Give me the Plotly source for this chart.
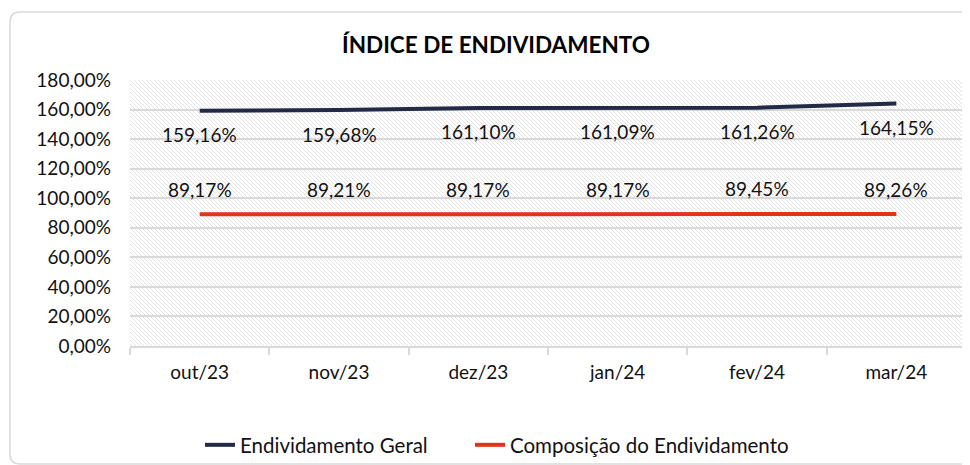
import base64
import plotly.graph_objects as go

categories = ["out/23", "nov/23", "dez/23", "jan/24", "fev/24", "mar/24"]
endividamento_geral = [159.16, 159.68, 161.10, 161.09, 161.26, 164.15]
composicao = [89.17, 89.21, 89.17, 89.17, 89.45, 89.26]
y_ticks = [0, 20, 40, 60, 80, 100, 120, 140, 160, 180]

FONT = "Lato"
NAVY = "#222a45"
RED = "#e5321d"
GRID = "#d9d9d9"
TEXT = "#111111"


def fmt(v):
    return f"{v:.2f}".replace(".", ",") + "%"


y_ticktext = [fmt(v) for v in y_ticks]

fig = go.Figure()
fig.add_trace(go.Scatter(x=categories, y=endividamento_geral, mode="lines",
                         name="Endividamento Geral", legend="legend",
                         line=dict(color=NAVY, width=4)))
fig.add_trace(go.Scatter(x=categories, y=composicao, mode="lines",
                         name="Composição do Endividamento", legend="legend2",
                         line=dict(color=RED, width=4)))

annotations = []
for c, v in zip(categories, endividamento_geral):
    annotations.append(dict(x=c, y=v, xref="x", yref="y", text=fmt(v), showarrow=False,
                            yshift=-24, font=dict(family=FONT, size=19, color=TEXT)))
for c, v in zip(categories, composicao):
    annotations.append(dict(x=c, y=v, xref="x", yref="y", text=fmt(v), showarrow=False,
                            yshift=25, font=dict(family=FONT, size=19, color=TEXT)))

# the page body has an 8px margin: work in window coords, convert to figure coords
OFF = 8
FW, FH = 970 - OFF, 465 - OFF
L, R, T, B = 130, 966, 80, 346          # plot area in window pixels
W, H = R - L, B - T

svg = (f'<svg xmlns="http://www.w3.org/2000/svg" width="{W}" height="{H}">'
       '<defs><pattern id="h" width="4" height="4" patternUnits="userSpaceOnUse">'
       '<path d="M-1,-1 L5,5 M-1,3 L1,5 M3,-1 L5,1" stroke="#e2e2e2" stroke-width="1"/>'
       f'</pattern></defs><rect width="{W}" height="{H}" fill="#ffffff"/>'
       f'<rect width="{W}" height="{H}" fill="url(#h)"/></svg>')
src = "data:image/svg+xml;base64," + base64.b64encode(svg.encode()).decode()


def px(x):
    return (x - L) / W


def py(y):
    return (B - y) / H


x0, x1, y0, y1 = px(10), px(990), py(12), py(464)
rx, ry = 10 / W, 10 / H
path = (f"M{x0 + rx},{y0} L{x1 - rx},{y0} Q{x1},{y0} {x1},{y0 - ry} "
        f"L{x1},{y1 + ry} Q{x1},{y1} {x1 - rx},{y1} L{x0 + rx},{y1} "
        f"Q{x0},{y1} {x0},{y1 + ry} L{x0},{y0 - ry} Q{x0},{y0} {x0 + rx},{y0} Z")

legend_common = dict(orientation="h", xanchor="left", y=py(445), yanchor="middle",
                     font=dict(family=FONT, size=20.5, color=TEXT), bgcolor="rgba(0,0,0,0)")

fig.update_layout(
    width=FW, height=FH,
    margin=dict(l=L - OFF, r=FW - (R - OFF), t=T - OFF, b=FH - (B - OFF), autoexpand=False),
    paper_bgcolor="white",
    plot_bgcolor="rgba(0,0,0,0)",
    font=dict(family=FONT, size=19, color=TEXT),
    title=dict(text="<b>ÍNDICE DE ENDIVIDAMENTO</b>", x=px(496), xanchor="center",
               xref="paper", y=1 - (45 - OFF) / FH, yanchor="middle",
               font=dict(family=FONT, size=22.5, color="#000000")),
    showlegend=True,
    legend=dict(x=px(200), **legend_common),
    legend2=dict(x=px(470), **legend_common),
    annotations=annotations,
    images=[dict(source=src, xref="paper", yref="paper", x=0, y=1, sizex=1, sizey=1,
                 xanchor="left", yanchor="top", sizing="stretch", layer="below")],
    shapes=[dict(type="path", path=path, xref="paper", yref="paper",
                 line=dict(color="#d9d9d9", width=1.5), layer="below")],
)
fig.update_yaxes(range=[0, 180], tickmode="array", tickvals=y_ticks, ticktext=y_ticktext,
                 showgrid=True, gridcolor=GRID, gridwidth=1.5, zeroline=False,
                 ticks="", showline=False, ticklabelstandoff=18, tickfont=dict(size=19))
fig.update_xaxes(type="category", range=[-0.5, 5.5], tickson="boundaries", ticks="outside",
                 ticklen=7, tickcolor=GRID, tickwidth=1.5, showline=True, linecolor=GRID,
                 linewidth=1.5, showgrid=False, ticklabelstandoff=8, tickfont=dict(size=19))

fig.write_html("out.html")
